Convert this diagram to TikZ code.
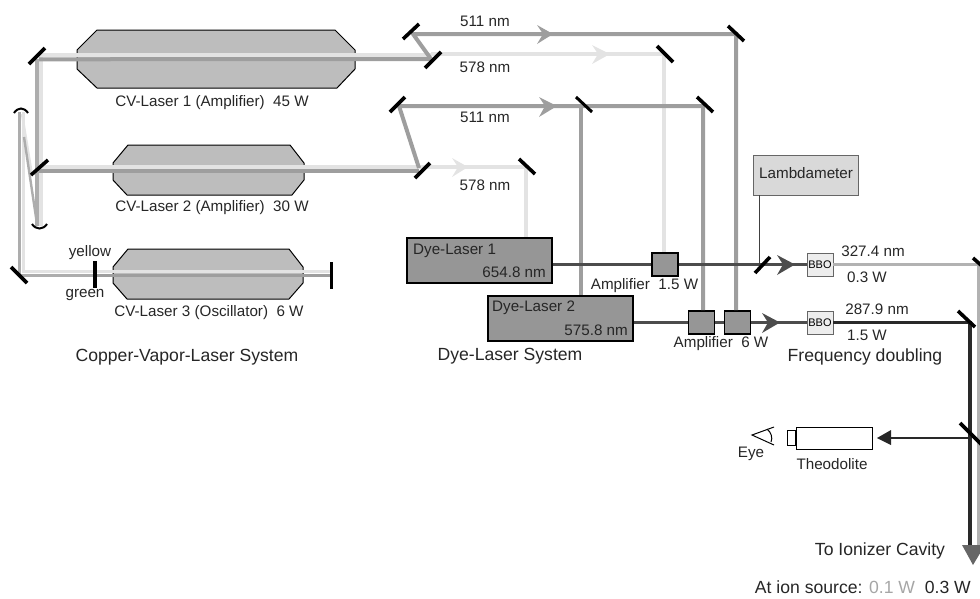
\documentclass[tikz,border=0pt]{standalone}
\usepackage{fontspec}
\setmainfont{Liberation Sans}
\usepackage{tikz}
\usetikzlibrary{arrows.meta,positioning,fit}
\definecolor{beamlight}{gray}{0.89}
\definecolor{beamdark}{gray}{0.62}
\definecolor{beamside}{gray}{0.68}
\definecolor{beamdye}{gray}{0.30}
\definecolor{beamuv}{gray}{0.16}
\begin{document}
\begin{tikzpicture}[x=1pt,y=-1pt,font=\fontsize{15.2}{17}\selectfont,
lab/.style={inner sep=0pt,text=black!85},
lablg/.style={lab,font=\fontsize{17.6}{19}\selectfont},
tube/.style={draw=black,line width=1pt,fill=black!26},
lightb/.style={draw=beamlight,line width=4.2pt},
darkb/.style={draw=beamdark,line width=4pt},
dyeb/.style={draw=beamdye,line width=3pt},
uvb/.style={draw=beamuv,line width=3.4pt},
mirror/.style={draw=black,line width=3.6pt},
curved/.style={draw=black,line width=2pt},
dyebox/.style={draw=black,line width=1.6pt,fill=black!41,minimum width=145pt,minimum height=45pt,inner sep=0pt},
ampbox/.style={draw=black,line width=1.6pt,fill=black!41,minimum width=26pt,minimum height=23pt,inner sep=0pt},
bbo/.style={draw=black!60,line width=0.8pt,fill=black!7,minimum width=26pt,minimum height=23pt,inner sep=0pt,font=\fontsize{11}{12}\selectfont}]
\useasboundingbox (0,0) rectangle (980,598);
% laser tubes
\draw[tube] (97,30)--(335,30)--(355,50)--(355,69)--(337,88)--(97,88)--(77,69)--(77,50)--cycle;
\draw[tube] (128,145)--(290,145)--(304,163)--(304,180)--(292,195)--(127,195)--(113,180)--(113,163)--cycle;
\draw[tube] (128,249)--(289,249)--(303,267)--(303,283)--(289,299)--(127,299)--(113,283)--(113,267)--cycle;
\node[lab] (cv1) at (212,103) {CV-Laser 1 (Amplifier)\ \ 45 W};
\node[lab] (cv2) at (212,208) {CV-Laser 2 (Amplifier)\ \ 30 W};
\node[lab] (cv3) at (209,313) {CV-Laser 3 (Oscillator)\ \ 6 W};
\node[lab] (yellow) at (90,253) {yellow};
\node[lab] (green) at (85,295) {green};
\node[lablg] (cvsys) at (187,357) {Copper-Vapor-Laser System};
% pump beam points
\coordinate (u1) at (413,34); \coordinate (s1) at (431,59);
\coordinate (t511a) at (736,34); \coordinate (t578a) at (664,54);
\coordinate (u2) at (399,106); \coordinate (s2) at (419,168);
\coordinate (t511b) at (703,106); \coordinate (t511c) at (581,106); \coordinate (t578b) at (526,167);
% dye lasers and amplifiers
\node[dyebox] (dye1) at (479.5,260.5) {};
\node[dyebox] (dye2) at (560.5,318.5) {};
\node[ampbox] (amp1) at (665,264.5) {};
\node[ampbox] (amp2) at (701.5,322.5) {};
\node[ampbox] (amp3) at (737.5,322.5) {};
\node[bbo] (bbo1) at (820,264.5) {BBO};
\node[bbo] (bbo2) at (820,322.5) {BBO};
% cavity beams
\draw[draw=beamside,line width=3.4pt] (19.5,112)--(19.5,275.5)--(95,275.5);
\draw[lightb,line width=3.6pt] (23.3,112)--(23.3,271.5)--(331,271.5);
\draw[darkb,line width=3pt] (95,275.5)--(331,275.5);
\draw[lightb,line width=2.4pt] (22,114)--(32,175);
\draw[draw=beamside,line width=2.4pt] (24,137)--(37,224);
\draw[draw=beamside,line width=3.4pt] (37,59)--(37,226);
\draw[lightb,line width=4pt] (41,55)--(41,226);
% laser outputs
\draw[lightb] (41,55)--(431,55) (431,54)--(t578a)--(t578a |- amp1.north);
\draw[darkb] (39,59.3)--(s1);
\draw[lightb] (39,167)--(t578b)--(t578b |- dye1.north);
\draw[darkb] (39,171)--(419,171);
\draw[darkb] (s1)--(u1)--(t511a)--(t511a |- amp3.north);
\draw[darkb] (s2)--(u2)--(t511b)--(t511b |- amp2.north);
\draw[darkb] (t511c)--(t511c |- dye2.north);
% dye beams
\draw[dyeb] (dye1.east |- amp1)--(amp1)--(bbo1);
\draw[dyeb] (dye2.east |- amp2)--(amp2)--(amp3)--(bbo2);
\coordinate (r1) at (978,264.5); \coordinate (r2) at (970,322.5);
\coordinate (tip) at (973,565);
\draw[uvb] (bbo2)--(r2)--(970,546);
\draw[draw=black!30,line width=3pt] (bbo1)--(r1)--(978,546);
% arrow heads
\fill[beamdark] (553,34)--(537,25)--(543,34)--(537,44)--cycle;
\fill[beamdark] (557,106)--(539,97)--(545,106)--(539,117)--cycle;
\fill[beamlight] (610,54)--(592,45)--(598,54)--(592,64)--cycle;
\fill[beamlight] (468,167)--(452,158)--(458,167)--(452,177)--cycle;
\fill[beamdye] (795,264.5)--(777,255)--(783,264.5)--(777,275)--cycle;
\fill[beamdye] (780,322.5)--(762,313)--(768,322.5)--(762,333)--cycle;
\fill[black!60] (962,545)--(985,545)--(tip)--cycle;
% mirrors
\draw[mirror] (29,64)--(45,48); \draw[mirror] (31,175)--(48,160); \draw[mirror] (11,267)--(27,283);
\draw[mirror] (95,261)--(95,288); \draw[mirror] (331.5,262)--(331.5,289);
\draw[mirror] (425,68)--(441,52); \draw[mirror] (403,39)--(419,24); \draw[mirror] (728,26)--(744,41);
\draw[mirror] (657,46)--(673,62); \draw[mirror] (415,178)--(430,163); \draw[mirror] (390,112)--(405,97);
\draw[mirror] (697,97)--(713,112); \draw[mirror,line width=3pt] (576,97)--(592,112); \draw[mirror] (519,159)--(535,174);
\draw[mirror] (755,273)--(770,257); \draw[mirror] (958,311)--(975,327); \draw[mirror] (973,258)--(982,266);
\draw[mirror] (960,423)--(982,445);
\draw[curved] (14,113) .. controls (18,107) and (24,107) .. (28,113);
\draw[curved] (32,224) .. controls (36,230) and (43,230) .. (47,224);
% beam labels
\node[lab] (l511a) at (485,21) {511 nm};
\node[lab] (l578a) at (485,67) {578 nm};
\node[lab] (l511b) at (485,117) {511 nm};
\node[lab] (l578b) at (485,185) {578 nm};
\node[lab,anchor=west] (d1a) at (413,251) {Dye-Laser 1};
\node[lab,anchor=east] (d1b) at (546,272) {654.8 nm};
\node[lab,anchor=west] (d2a) at (492,308) {Dye-Laser 2};
\node[lab,anchor=east] (d2b) at (628,330) {575.8 nm};
\node[lab] (a1) at (644.5,286) {Amplifier\ \ 1.5 W};
\node[lab] (a2) at (721,344) {Amplifier\ \ 6 W};
\node[lablg] (dyesys) at (510,356) {Dye-Laser System};
% lambdameter
\node[draw=black!60,fill=black!15,minimum width=105pt,minimum height=40pt,inner sep=0pt] (lambda) at (805.5,175) {};
\node[lab,anchor=west] (ltxt) at (759,173) {Lambdameter};
\coordinate (split) at (759,264.5);
\draw[black!75,line width=0.9pt] (split |- lambda.south)--(split);
\node[lab] (w1) at (873,251) {327.4 nm};
\node[lab] (w2) at (867,277) {0.3 W};
\node[lab] (w3) at (877,309) {287.9 nm};
\node[lab] (w4) at (867,335) {1.5 W};
\node[lablg] (fd) at (865,357) {Frequency doubling};
% theodolite
\node[draw=black,line width=1pt,fill=white,minimum width=76pt,minimum height=22pt,inner sep=0pt] (theo) at (834,438) {};
\node[draw=black,line width=0.9pt,fill=white,minimum width=8pt,minimum height=15pt,inner sep=0pt,left=0pt of theo] (eyep) {};
\coordinate (tap) at (970,438);
\draw[uvb,line width=2.6pt] (tap)--(888,438);
\fill[black!85] (877,438)--(891,430)--(891,445)--cycle;
\draw[black,line width=1pt] (774,427)--(752,435)--(774,445);
\draw[black,line width=1pt] (767,429) .. controls (771,432) and (773,438) .. (771,442);
\node[lab] (eye) at (751,454) {Eye};
\node[lab] (thtxt) at (832,464) {Theodolite};
\node[lablg] (ion) at (880,551) {To Ionizer Cavity};
\node[lablg,anchor=east] (src) at (971,587.5) {At ion source: \textcolor{black!35}{0.1 W}\ \ 0.3 W};
\end{tikzpicture}
\end{document}
